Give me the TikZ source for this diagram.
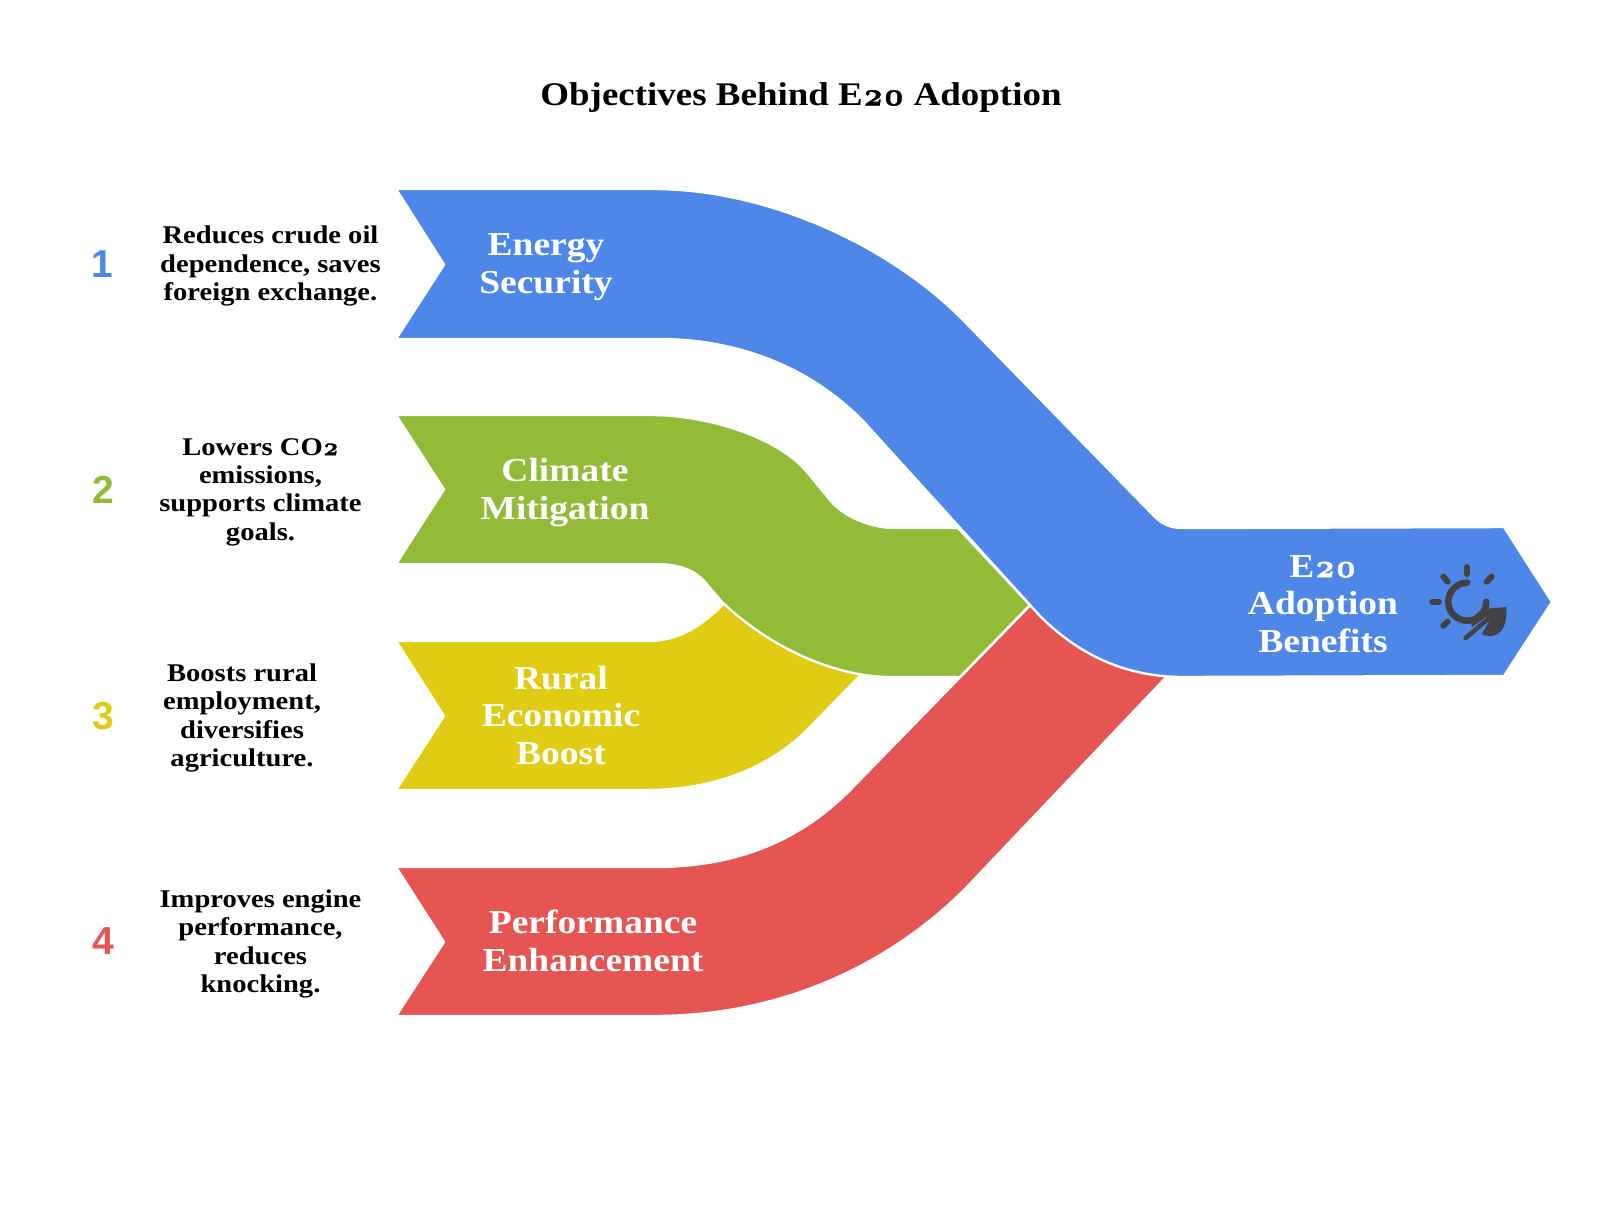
\documentclass[tikz,border=0pt]{standalone}
\usepackage{fontspec}
\setmainfont{Liberation Serif}[FakeStretch=1.12]
\newfontfamily\numfont{Liberation Sans}
\newfontfamily\oldnum{Latin Modern Roman}[Numbers=OldStyle, BoldFeatures={FakeBold=1.2}]
\definecolor{bandblue}{HTML}{4E87E8}
\definecolor{bandgreen}{HTML}{92BC38}
\definecolor{bandyellow}{HTML}{E0CC12}
\definecolor{bandred}{HTML}{E55653}
\definecolor{icondark}{HTML}{424242}
\tikzset{
	band/.style={draw=white, line width=2.4pt, line join=round},
	bandtext/.style={text=white, align=center, font=\fontsize{33.5}{37.6}\selectfont\bfseries},
	desctext/.style={text=black, align=center, font=\fontsize{25.5}{28.3}\selectfont\bfseries},
	numtext/.style={font=\fontsize{39}{39}\selectfont\numfont\bfseries},
	sunray/.style={draw=icondark, line width=6pt, line cap=round}
}
\begin{document}
\begin{tikzpicture}[x=1pt, y=-1pt]
	\useasboundingbox (0,0) rectangle (1600,1224);
	\node[font=\fontsize{33}{38}\selectfont\bfseries] (title) at (801,97.5) {Objectives Behind E{\oldnum 20} Adoption};

	\path[band, fill=bandred] (396,867) -- (654,867) .. controls (735,867) and (800,842) .. (853,787)
		-- (1045,590) -- (1192,650) -- (967,887) .. controls (905,950) and (800,1016) .. (654,1016)
		-- (396,1016) -- (444,942) -- cycle;
	\path[band, fill=bandyellow] (396,641) -- (648,641) .. controls (680,641) and (705,625) .. (735,592)
		-- (885,650) -- (812,725) .. controls (770,770) and (710,790) .. (648,790)
		-- (396,790) -- (444,716) -- cycle;
	\path[band, fill=bandgreen] (396,415) -- (652,415) .. controls (705,415) and (777,436) .. (807,472)
		-- (830,500) .. controls (845,518) and (872,528) .. (896,528) -- (958,528) -- (1030,605)
		-- (960,677) -- (890,677) .. controls (840,677) and (775,652) .. (722,602) -- (705,582)
		.. controls (693,568) and (675,564) .. (654,564) -- (396,564) -- (444,489.5) -- cycle;
	\path[band, fill=bandblue] (396,189) -- (654,189) .. controls (764,189) and (888,243) .. (965,322)
		-- (1155,517) .. controls (1163,525) and (1172,528) .. (1183,528) -- (1504,527) -- (1552,602)
		-- (1504,676) -- (1183,677) .. controls (1130,677) and (1082,658) .. (1040,616) -- (863,421)
		.. controls (805,362) and (730,339) .. (659,339) -- (396,339) -- (444,264.6) -- cycle;

	\node[numtext, text=bandblue] (numone) at (102,264) {1};
	\node[numtext, text=bandgreen] (numtwo) at (103,490) {2};
	\node[numtext, text=bandyellow] (numthree) at (103,716) {3};
	\node[numtext, text=bandred] (numfour) at (103,941) {4};

	\node[desctext] (descone) at (270.5,266) {Reduces crude oil\\dependence, saves\\foreign exchange.};
	\node[desctext] (desctwo) at (260.5,492) {Lowers CO{\oldnum 2}\\emissions,\\supports climate\\goals.};
	\node[desctext] (descthree) at (242,718) {Boosts rural\\employment,\\diversifies\\agriculture.};
	\node[desctext] (descfour) at (260.5,944) {Improves engine\\performance,\\reduces\\knocking.};

	\node[bandtext] (energy) at (546,267) {Energy\\Security};
	\node[bandtext] (climate) at (565,492.5) {Climate\\Mitigation};
	\node[bandtext] (rural) at (561,715.5) {Rural\\Economic\\Boost};
	\node[bandtext] (performance) at (593,941) {Performance\\Enhancement};
	\node[bandtext] (benefits) at (1323,604) {E{\oldnum 20}\\Adoption\\Benefits};

	\draw[sunray, line width=6.5pt] (1486.3,601.7) arc[start angle=0, end angle=270, radius=19];
	\draw[sunray] (1467.3,574) -- (1467.3,567);
	\draw[sunray] (1486.7,581.7) -- (1491.7,576.7);
	\draw[sunray] (1447.7,581.7) -- (1443.3,576.7);
	\draw[sunray] (1439,601.7) -- (1432.3,601.7);
	\draw[sunray] (1447.7,621.7) -- (1443.3,625.7);
	\fill[icondark] (1506,606.7) .. controls (1498,609) and (1484,606) .. (1476,614)
		.. controls (1471,620) and (1471,625) .. (1472,627) -- (1486,617) -- (1490,620) -- (1481.7,634)
		.. controls (1490,638) and (1500,636) .. (1504,626) .. controls (1507,618) and (1506.5,612) .. cycle;
	\draw[icondark, line width=4.5pt, line cap=round] (1465.5,638) -- (1488,619);
\end{tikzpicture}
\end{document}
